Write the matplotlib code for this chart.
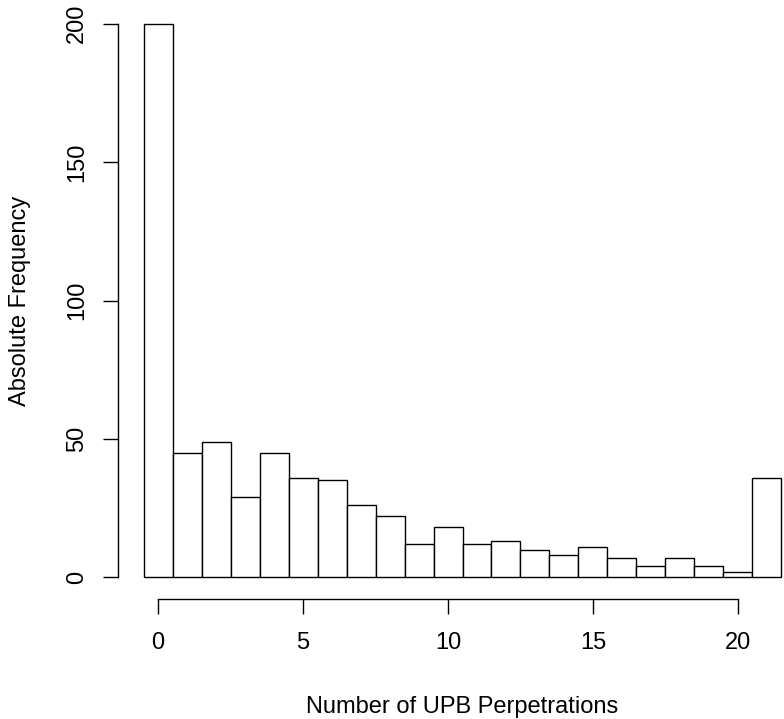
import numpy as np
import matplotlib
matplotlib.use("Agg")
import matplotlib.pyplot as plt

plt.rcParams['font.family'] = ['Liberation Sans', 'DejaVu Sans']

# counts per number of perpetrations (last bin = 21+)
perpetrations = np.arange(0, 22)
frequency = [200, 45, 49, 29, 45, 36, 35, 26, 22, 12, 18,
             12, 13, 10, 8, 11, 7, 4, 7, 4, 2, 36]
x_ticks = [0, 5, 10, 15, 20]
y_ticks = [0, 50, 100, 150, 200]

W, H = 784, 719
fig = plt.figure(figsize=(W/100, H/100), dpi=100)
ax = fig.add_axes([118/W, (H-599.4)/H, 689/W, 597.8/H])

ax.bar(perpetrations, frequency, width=1.0, color='white',
       edgecolor='black', linewidth=1.0)

ax.set_xlim(-1.38, 22.38)
ax.set_ylim(-8, 208)

# R style axes: lines only from first to last tick
for s in ['top', 'right']:
    ax.spines[s].set_visible(False)
ax.spines['bottom'].set_bounds(0, 20)
ax.spines['left'].set_bounds(0, 200)
ax.spines['bottom'].set_linewidth(1.0)
ax.spines['left'].set_linewidth(1.0)

ax.set_xticks(x_ticks)
ax.set_yticks(y_ticks)
ax.tick_params(axis='both', length=10.5, width=1.0, labelsize=17)
ax.tick_params(axis='x', pad=13)
ax.tick_params(axis='y', pad=11)
for lab in ax.get_yticklabels():
    lab.set_rotation(90)
    lab.set_va('center')

fig.text(462/W, 1-706.7/H, "Number of UPB Perpetrations", fontsize=17,
         ha='center', va='center')
fig.text(20/W, 1-((577.3+23.7)/2)/H, "Absolute Frequency", fontsize=17,
         ha='center', va='center', rotation=90)

fig.savefig("out.png", dpi=100)
